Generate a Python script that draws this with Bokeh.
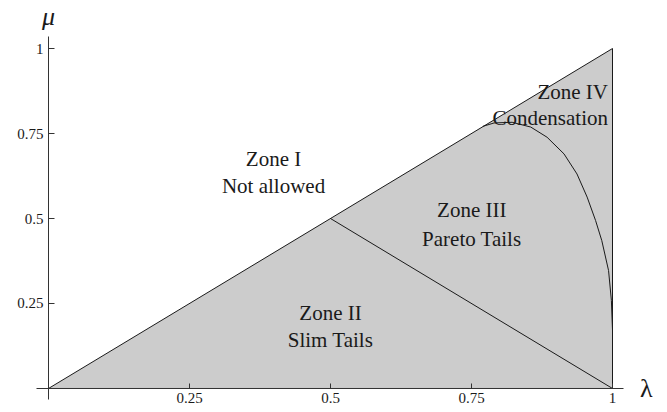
from bokeh.plotting import figure
from bokeh.models import Label, FixedTicker, Range1d
from bokeh.embed import file_html
from bokeh.resources import INLINE

# ---- data ----
region_x = [0.0, 1.0, 1.0]
region_y = [0.0, 1.0, 0.0]
divider_x = [0.5, 1.0]
divider_y = [0.5, 0.0]
curve_x = [0.770, 0.790, 0.822, 0.855, 0.884, 0.914, 0.937, 0.955, 0.970,
           0.981, 0.993, 0.998, 1.0, 1.0]
curve_y = [0.771, 0.781, 0.783, 0.769, 0.739, 0.690, 0.631, 0.563, 0.494,
           0.435, 0.347, 0.259, 0.171, 0.0]
tick_values = [0.25, 0.5, 0.75, 1.0]
tick_labels = ["0.25", "0.5", "0.75", "1"]
zone_lines = [
    ("Zone I", 0.399, 0.674, "center"),
    ("Not allowed", 0.399, 0.595, "center"),
    ("Zone II", 0.500, 0.223, "center"),
    ("Slim Tails", 0.500, 0.144, "center"),
    ("Zone III", 0.7505, 0.526, "center"),
    ("Pareto Tails", 0.7505, 0.440, "center"),
    ("Zone IV", 0.992, 0.871, "right"),
    ("Condensation", 0.992, 0.796, "right"),
]

FONT = "Liberation Serif"
INK = "#1a1a1a"

p = figure(width=667, height=412, output_backend="svg", toolbar_location=None,
           x_range=Range1d(-0.0851, 1.0975), y_range=Range1d(-0.0706, 1.1412),
           min_border=0)
p.outline_line_color = None
p.xgrid.visible = False
p.ygrid.visible = False
p.background_fill_color = "white"
p.border_fill_color = "white"

p.patch(region_x, region_y, fill_color="#cccccc", line_color=INK, line_width=1)
p.line(divider_x, divider_y, line_color=INK, line_width=1)
p.line(curve_x, curve_y, line_color=INK, line_width=1)

for ax in (p.xaxis, p.yaxis):
    ax.fixed_location = 0
    ax.ticker = FixedTicker(ticks=tick_values)
    ax.major_label_overrides = dict(zip(tick_values, tick_labels))
    ax.minor_tick_line_color = None
    ax.major_tick_out = 0
    ax.axis_line_color = "#333333"
    ax.major_tick_line_color = "#333333"
    ax.major_label_text_font = FONT
    ax.major_label_text_font_size = "15px"
    ax.major_label_text_color = INK
    ax.major_label_standoff = 5
p.xaxis.major_tick_in = 5
p.yaxis.major_tick_in = 6
p.xaxis.bounds = (-0.0213, 1.0195)
p.yaxis.bounds = (-0.032, 1.035)

for txt, x, y, align in zone_lines:
    p.add_layout(Label(x=x, y=y, text=txt, text_align=align,
                       text_baseline="alphabetic", text_font=FONT,
                       text_font_size="21px", text_color=INK))

p.add_layout(Label(x=1.060, y=0.0, text="λ", text_align="center",
                   text_baseline="alphabetic", text_font=FONT,
                   text_font_size="26px", text_color=INK))
p.add_layout(Label(x=0.0, y=1.094, text="μ", text_align="center",
                   text_baseline="alphabetic", text_font=FONT,
                   text_font_style="italic",
                   text_font_size="26px", text_color=INK))

open("out.html", "w").write(file_html(p, INLINE))
